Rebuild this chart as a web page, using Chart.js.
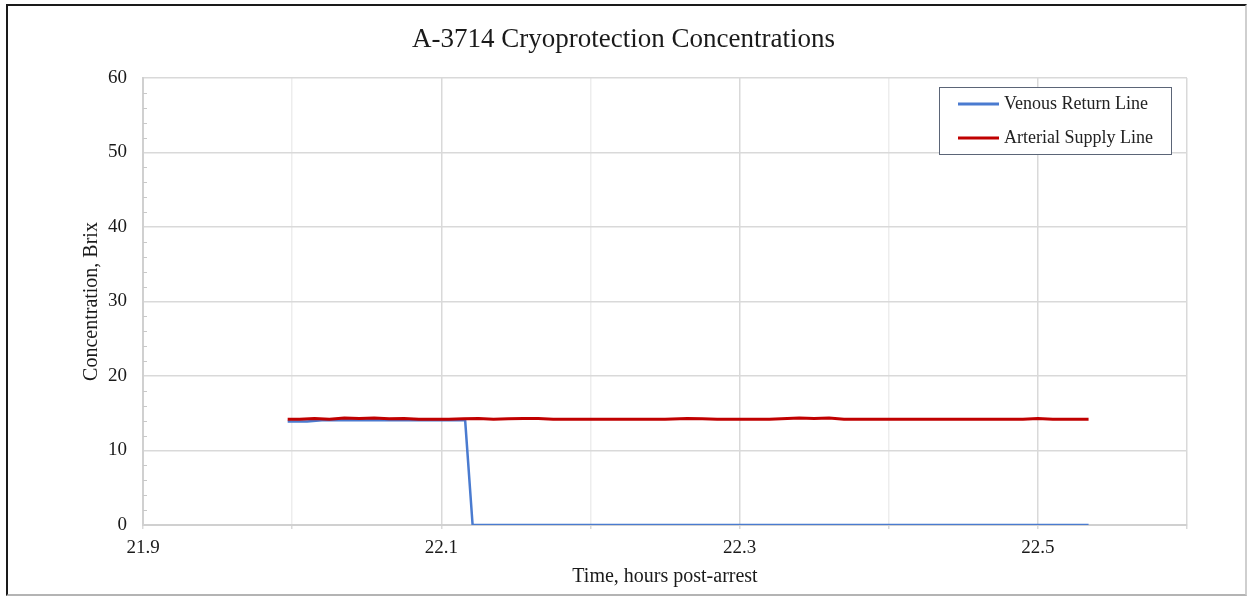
<!DOCTYPE html>
<html>
<head>
<meta charset="utf-8">
<script src="https://cdn.jsdelivr.net/npm/chart.js@4/dist/chart.umd.min.js"></script>
<style>
  html, body { margin: 0; padding: 0; background: #fff; }
  #wrap { position: absolute; left: 0; top: 0; width: 1247px; height: 596px; }
  #frame {
    position: absolute; left: 6px; top: 4px; width: 1241px; height: 592px;
    box-sizing: border-box; pointer-events: none;
    border-top: 2px solid #1a1a1a; border-left: 2px solid #1a1a1a;
    border-right: 2px solid #cfcfcf; border-bottom: 2px solid #b4b4b4;
  }
</style>
</head>
<body>
<div id="wrap"><canvas id="chart"></canvas></div>
<div id="frame"></div>
<script>
// data
const venousHours = [21.997, 22.01, 22.02, 22.04, 22.06, 22.08, 22.10, 22.116, 22.121, 22.20, 22.30, 22.40, 22.50, 22.534];
const venousBrix  = [13.9, 13.9, 14.05, 14.05, 14.05, 14.05, 14.05, 14.05, 0, 0, 0, 0, 0, 0];

const arterialHours = [21.997, 22.005, 22.015, 22.025, 22.035, 22.045, 22.055, 22.065, 22.075, 22.085,
  22.095, 22.105, 22.115, 22.125, 22.135, 22.145, 22.155, 22.165, 22.175, 22.19,
  22.21, 22.23, 22.25, 22.265, 22.275, 22.285, 22.30, 22.32, 22.34, 22.35,
  22.36, 22.37, 22.39, 22.41, 22.43, 22.45, 22.47, 22.49, 22.50, 22.51, 22.534];
const arterialBrix = [14.2, 14.2, 14.3, 14.2, 14.35, 14.3, 14.35, 14.25, 14.3, 14.2,
  14.2, 14.2, 14.25, 14.3, 14.2, 14.25, 14.3, 14.3, 14.2, 14.2,
  14.2, 14.2, 14.2, 14.3, 14.25, 14.2, 14.2, 14.2, 14.35, 14.3,
  14.35, 14.2, 14.2, 14.2, 14.2, 14.2, 14.2, 14.2, 14.3, 14.2, 14.2];

const seriesNames = ['Venous Return Line', 'Arterial Supply Line'];
const chartTitle = 'A-3714 Cryoprotection Concentrations';
const xMin = 21.9, xMax = 22.6, xStep = 0.1;
const yMin = 0, yMax = 60, yStep = 10, yMinorStep = 2;

const serif = 'Liberation Serif, Times New Roman, serif';

const toPoints = (xs, ys) => xs.map((x, i) => ({ x: x, y: ys[i] }));

// title centred on the whole picture, not on the plot
const pageTitle = {
  id: 'pageTitle',
  afterDraw(chart) {
    const ctx = chart.ctx;
    ctx.save();
    ctx.font = '27px ' + serif;
    ctx.fillStyle = '#1a1a1a';
    ctx.textAlign = 'center';
    ctx.textBaseline = 'middle';
    ctx.fillText(chartTitle, chart.width / 2, 40);
    ctx.restore();
  }
};

// little inward ticks on the value axis
const minorTicks = {
  id: 'minorTicks',
  afterDraw(chart) {
    const ctx = chart.ctx, y = chart.scales.y, left = chart.chartArea.left;
    ctx.save();
    ctx.strokeStyle = '#c8c8c8';
    ctx.lineWidth = 1;
    for (let v = yMin; v <= yMax; v += yMinorStep) {
      if (v % yStep === 0) continue;
      const py = Math.round(y.getPixelForValue(v)) + 0.5;
      ctx.beginPath();
      ctx.moveTo(left, py);
      ctx.lineTo(left + 4, py);
      ctx.stroke();
    }
    ctx.restore();
  }
};

// boxed legend inside the plot, top right
const boxLegend = {
  id: 'boxLegend',
  afterDraw(chart) {
    const ctx = chart.ctx;
    const bx = 939.5, by = 87.5, bw = 232, bh = 67;
    ctx.save();
    ctx.fillStyle = '#fff';
    ctx.fillRect(bx, by, bw, bh);
    ctx.strokeStyle = '#5b6577';
    ctx.lineWidth = 1;
    ctx.strokeRect(bx, by, bw, bh);
    ctx.font = '18px ' + serif;
    ctx.textBaseline = 'middle';
    chart.data.datasets.forEach((ds, i) => {
      const ly = 104 + i * 34;
      ctx.strokeStyle = ds.borderColor;
      ctx.lineWidth = 3;
      ctx.beginPath();
      ctx.moveTo(958, ly);
      ctx.lineTo(999, ly);
      ctx.stroke();
      ctx.fillStyle = '#222';
      ctx.fillText(ds.label, 1004, ly);
    });
    ctx.restore();
  }
};

new Chart(document.getElementById('chart').getContext('2d'), {
  type: 'line',
  data: {
    datasets: [{
      label: seriesNames[0],
      data: toPoints(venousHours, venousBrix),
      borderColor: '#4a7bd0',
      borderWidth: 2.5,
      pointRadius: 0,
      tension: 0,
      order: 1
    }, {
      label: seriesNames[1],
      data: toPoints(arterialHours, arterialBrix),
      borderColor: '#c00000',
      borderWidth: 3,
      pointRadius: 0,
      tension: 0,
      order: 0
    }]
  },
  options: {
    responsive: true,
    maintainAspectRatio: false,
    animation: false,
    layout: { padding: { left: 0, right: 60, top: 78, bottom: 0 } },
    plugins: {
      legend: { display: false },
      tooltip: { enabled: false },
      title: { display: false }
    },
    scales: {
      x: {
        type: 'linear',
        min: xMin, max: xMax,
        afterFit(scale) { scale.height = 71; },
        ticks: {
          stepSize: xStep,
          autoSkip: false,
          maxRotation: 0,
          color: '#1a1a1a',
          padding: 8,
          font: { family: serif, size: 19 },
          callback: (v) => Math.round(v * 10) % 2 === 1 ? v.toFixed(1) : ''
        },
        grid: {
          color: (c) => {
            const k = Math.round(c.tick.value * 10);
            return (k % 2 === 1 || k === 226) ? '#d9d9d9' : '#ededed';
          },
          lineWidth: 1.5,
          tickLength: 4,
          tickColor: '#d9d9d9'
        },
        border: { color: '#d0d0d0', width: 2 },
        title: {
          display: true,
          text: 'Time, hours post-arrest',
          color: '#1a1a1a',
          font: { family: serif, size: 20 },
          padding: { top: 0, bottom: 7 }
        }
      },
      y: {
        min: yMin, max: yMax,
        afterFit(scale) { scale.width = 143; },
        ticks: {
          stepSize: yStep,
          color: '#1a1a1a',
          padding: 16,
          font: { family: serif, size: 19 }
        },
        grid: { color: '#d9d9d9', lineWidth: 1.5, drawTicks: false },
        border: { color: '#d0d0d0', width: 2 },
        title: {
          display: true,
          text: 'Concentration, Brix',
          color: '#1a1a1a',
          font: { family: serif, size: 20 },
          padding: { top: 80, bottom: 0 }
        }
      }
    }
  },
  plugins: [pageTitle, minorTicks, boxLegend]
});
</script>
</body>
</html>
